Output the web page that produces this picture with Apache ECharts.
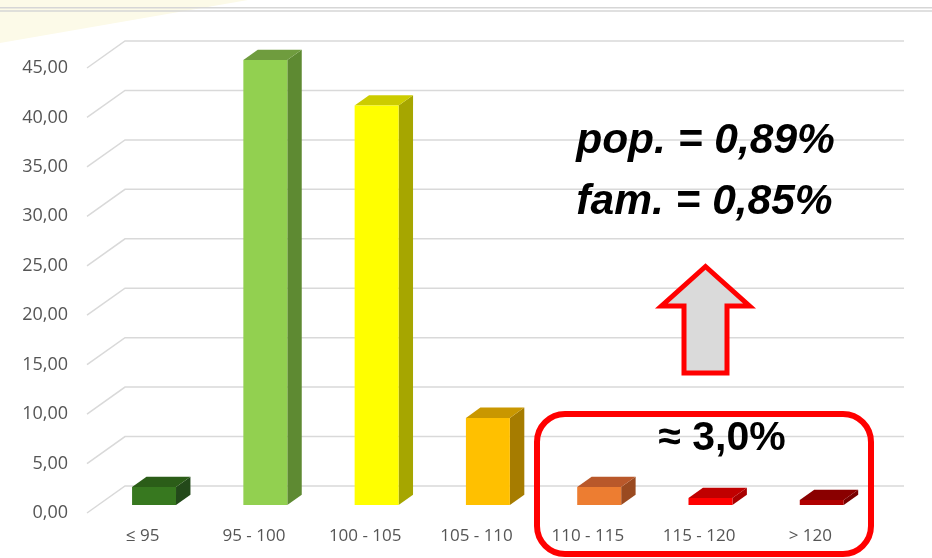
<!DOCTYPE html>
<html lang="pt">
  <head>
    <meta charset="UTF-8" />
    <script src="https://cdn.jsdelivr.net/npm/echarts@6/dist/echarts.min.js"></script>
    <title>Distribuição</title>
    <style>
      html, body { margin: 0; padding: 0; background: #fff; }
      #container { width: 932px; height: 558px; }
    </style>
  </head>
  <body>
    <div id="container"></div>

    <script>
      // data
      const categories = ["≤ 95", "95 - 100", "100 - 105", "105 - 110", "110 - 115", "115 - 120", "> 120"];
      const values = [1.8, 45.0, 40.4, 8.8, 1.8, 0.7, 0.5];
      const yTicks = [0, 5, 10, 15, 20, 25, 30, 35, 40, 45];

      // bar colours: front, top, side
      const frontColors = ["#37781f", "#92d050", "#ffff00", "#ffc000", "#ed7d31", "#ff0000", "#b00000"];
      const topColors = ["#2b5d18", "#6f9c3e", "#cccc00", "#c99700", "#b9582a", "#c00000", "#8a0000"];
      const sideColors = ["#23491a", "#5e8a32", "#a6a600", "#a67c00", "#9a4a20", "#a80000", "#780000"];

      // 3d depth of the floor (back wall offset)
      const WALL_DX = 38;
      const WALL_DY = 27;
      const BAR_FRONT = 0.3;
      const BAR_DEPTH = 0.38;

      const myChart = echarts.init(document.getElementById("container"));

      function renderGrid(params, api) {
        const y = api.coord([0, api.value(1)])[1];
        const cs = params.coordSys;
        const x0 = cs.x;
        const x1 = cs.x + cs.width;
        return {
          type: "polyline",
          shape: { points: [[x0, y], [x0 + WALL_DX, y - WALL_DY], [x1 + WALL_DX, y - WALL_DY]] },
          style: { stroke: "#d9d9d9", lineWidth: 1.5, fill: null },
          silent: true,
        };
      }

      function renderBar(params, api) {
        const i = api.value(0);
        const top = api.coord([i, api.value(1)]);
        const base = api.coord([i, 0]);
        const w = api.size([1, 0])[0] * 0.395;
        const x0 = top[0] + WALL_DX * BAR_FRONT - w / 2;
        const yt = top[1] - WALL_DY * BAR_FRONT;
        const yb = base[1] - WALL_DY * BAR_FRONT;
        const dx = WALL_DX * BAR_DEPTH;
        const dy = WALL_DY * BAR_DEPTH;
        return {
          type: "group",
          children: [
            {
              type: "polygon",
              shape: { points: [[x0 + w, yt], [x0 + w + dx, yt - dy], [x0 + w + dx, yb - dy], [x0 + w, yb]] },
              style: { fill: sideColors[i] },
            },
            {
              type: "polygon",
              shape: { points: [[x0, yt], [x0 + w, yt], [x0 + w + dx, yt - dy], [x0 + dx, yt - dy]] },
              style: { fill: topColors[i] },
            },
            {
              type: "rect",
              shape: { x: x0, y: yt, width: w, height: yb - yt },
              style: { fill: frontColors[i] },
            },
          ],
        };
      }

      const bigFont = "bold italic 42.5px 'Liberation Sans', Arial";

      const option = {
        animation: false,
        backgroundColor: "#ffffff",
        grid: { left: 87, right: 66, top: 68, bottom: 45 },
        xAxis: {
          type: "category",
          data: categories,
          axisLine: { show: false },
          axisTick: { show: false },
          axisLabel: { margin: 15, color: "#555555", fontSize: 17, fontFamily: "Open Sans" },
        },
        yAxis: {
          type: "value",
          min: 0,
          max: 45,
          interval: 5,
          splitLine: { show: false },
          axisLine: { show: false },
          axisTick: { show: false },
          axisLabel: {
            margin: 19,
            color: "#555555",
            fontSize: 18,
            fontFamily: "Open Sans",
            formatter: (v) => v.toFixed(2).replace(".", ","),
          },
        },
        series: [
          {
            type: "custom",
            renderItem: renderGrid,
            data: yTicks.map((v) => [0, v]),
            z: 1,
            silent: true,
          },
          {
            type: "custom",
            renderItem: renderBar,
            data: values.map((v, i) => [i, v]),
            z: 2,
          },
        ],
        graphic: [
          // slide decoration at the top
          {
            type: "polygon",
            z: -10,
            shape: { points: [[0, 0], [248, 0], [0, 43]] },
            style: { fill: "#fcfae8" },
          },
          {
            type: "rect",
            z: -9,
            shape: { x: 0, y: 7, width: 932, height: 1.5 },
            style: { fill: "#d6d6d6" },
          },
          {
            type: "rect",
            z: -9,
            shape: { x: 0, y: 10.3, width: 932, height: 1.5 },
            style: { fill: "#d6d6d6" },
          },
          {
            type: "text",
            z: 100,
            style: { text: "pop. = 0,89%", x: 705.5, y: 141, textAlign: "center", textVerticalAlign: "middle", font: bigFont, fill: "#000" },
          },
          {
            type: "text",
            z: 100,
            style: { text: "fam. = 0,85%", x: 704.5, y: 202, textAlign: "center", textVerticalAlign: "middle", font: bigFont, fill: "#000" },
          },
          {
            type: "polygon",
            z: 100,
            shape: {
              points: [[705.5, 266.5], [749.5, 306], [727, 306], [727, 373], [684, 373], [684, 306], [661.5, 306]],
            },
            style: { fill: "#dadada", stroke: "#ff0000", lineWidth: 5, lineJoin: "miter" },
          },
          {
            type: "rect",
            z: 100,
            shape: { x: 537, y: 414, width: 334, height: 140, r: 28 },
            style: { fill: null, stroke: "#ff0000", lineWidth: 6 },
          },
          {
            type: "text",
            z: 100,
            style: { text: "≈ 3,0%", x: 722, y: 439, textAlign: "center", textVerticalAlign: "middle", font: "bold 41px 'Liberation Sans', Arial", fill: "#000" },
          },
        ],
      };

      myChart.setOption(option);
    </script>
  </body>
</html>
